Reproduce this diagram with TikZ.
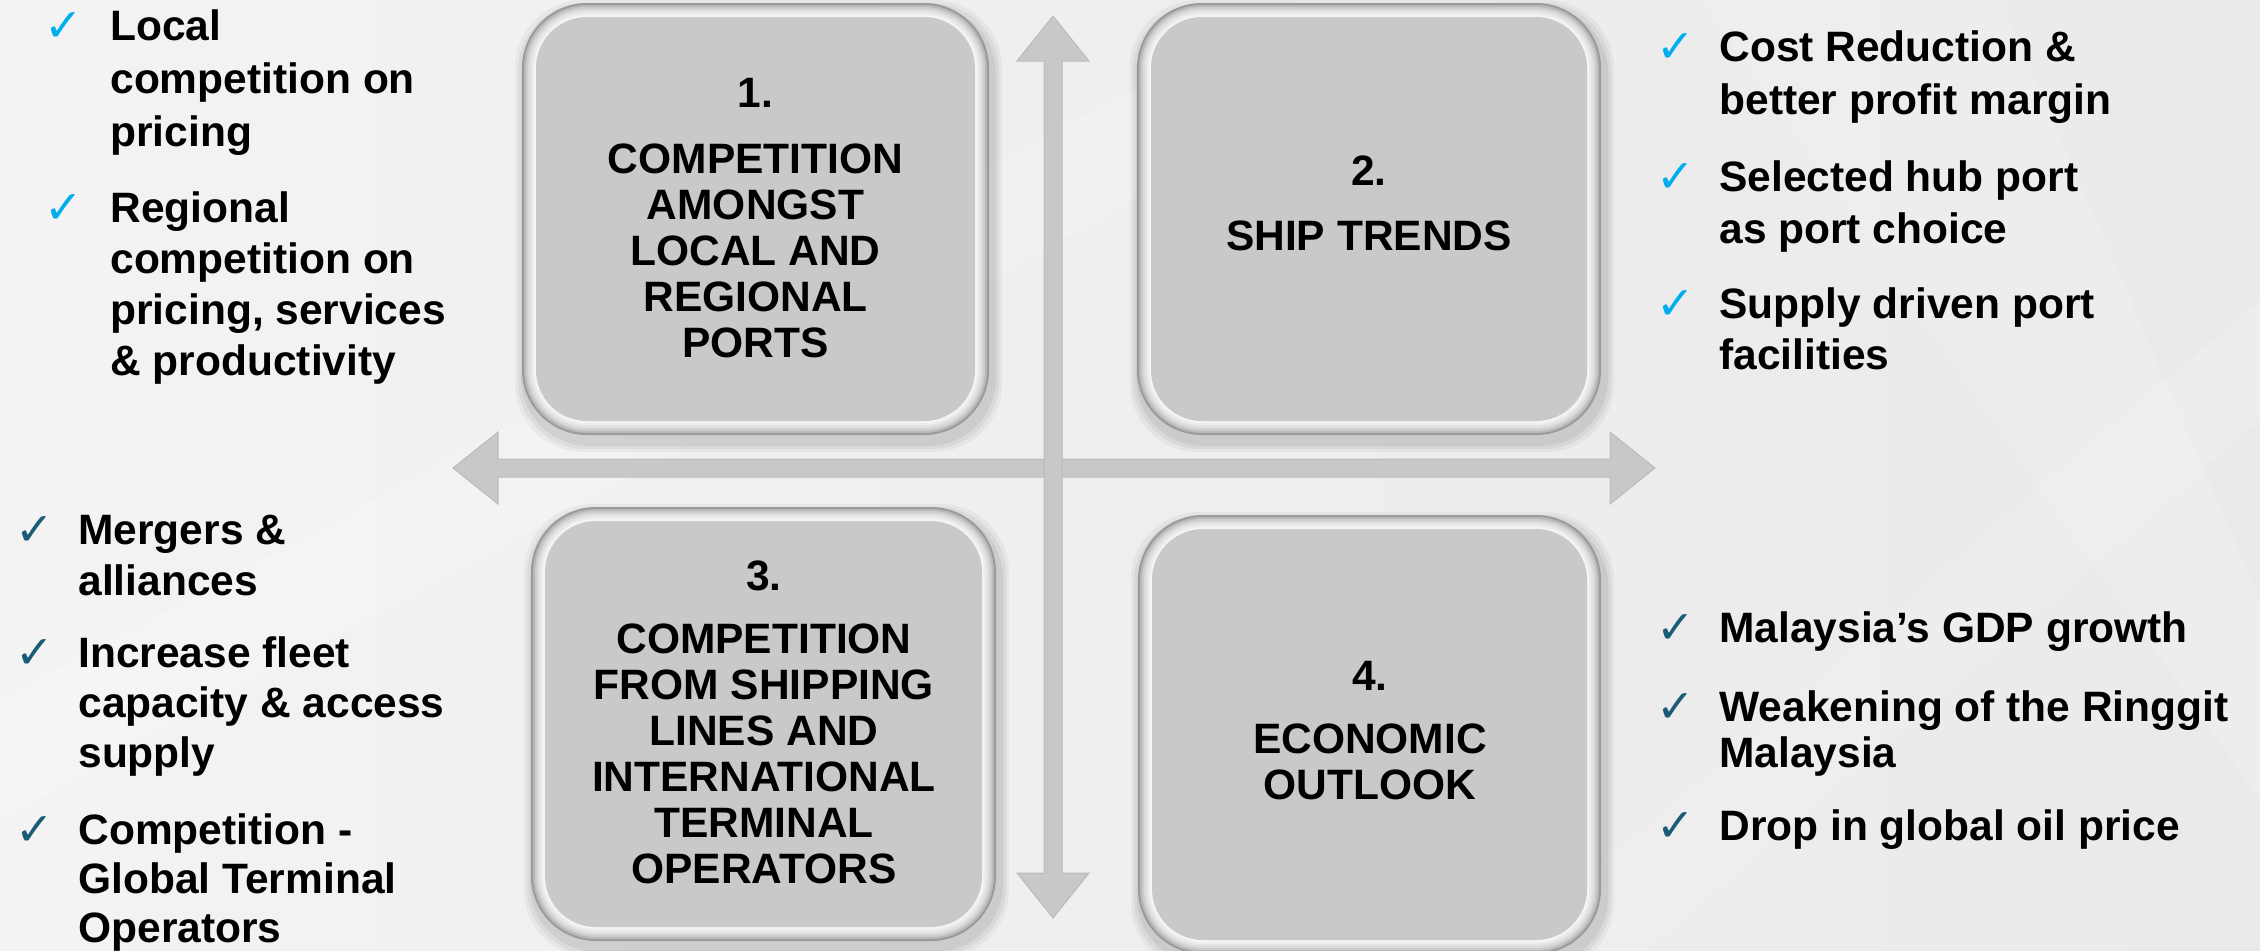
\documentclass[tikz,border=0pt]{standalone}
\usepackage{fontspec}
\setmainfont{Liberation Sans}
\newfontfamily\checkfont{DejaVu Sans}
\definecolor{bgA}{HTML}{F3F3F3}
\definecolor{bgB}{HTML}{EAEAEA}
\definecolor{rimA}{HTML}{9A9A9A}
\definecolor{rimB}{HTML}{B8B8B8}
\definecolor{rimC}{HTML}{CCCCCC}
\definecolor{rimD}{HTML}{DADADA}
\definecolor{rimE}{HTML}{E4E4E4}
\definecolor{rimF}{HTML}{EDEDED}
\definecolor{rimG}{HTML}{F5F5F5}
\definecolor{boxfill}{HTML}{C9C9C9}
\definecolor{arrowfill}{HTML}{C8C8C8}
\definecolor{arrowline}{HTML}{BBBBBB}
\definecolor{chkblue}{HTML}{00AEEF}
\definecolor{chkteal}{HTML}{1A5C78}
\newcommand\bevelbox[4]{%
  \foreach \bs/\bo in {10/0.04,7/0.05,4/0.06}{
    \fill[black,opacity=\bo,rounded corners=34pt] (#1-\bs+3,#2-\bs+7) rectangle (#3+\bs+3,#4+\bs+7);
  }
  \foreach \bd/\bc in {0/rimA,2/rimB,4/rimC,6/rimD,8/rimE,10/rimF,12/rimG,14/boxfill}{
    \pgfmathsetmacro\br{(65-\bd)*0.5}
    \fill[\bc,rounded corners=\br pt] (#1+\bd,#2+\bd) rectangle (#3-\bd,#4-\bd);
  }
}
\tikzset{
  bul/.style={anchor=north west, inner sep=0pt, align=left, text=black,
    font=\fontsize{21.25}{#1}\selectfont\bfseries},
  bul/.default=26,
  ttl/.style={anchor=north, inner sep=0pt, align=center, text=black,
    font=\fontsize{21.25}{23}\selectfont\bfseries},
  num/.style={anchor=base, inner sep=0pt, text=black,
    font=\fontsize{21.25}{23}\selectfont\bfseries},
  chkA/.style={anchor=base, inner sep=0pt, text=chkblue, font=\checkfont\fontsize{23}{23}\selectfont},
  chkB/.style={anchor=base, inner sep=0pt, text=chkteal, font=\checkfont\fontsize{23}{23}\selectfont},
  axis/.style={fill=arrowfill, draw=arrowline, line width=0.5pt, line join=miter}
}
\begin{document}
\begin{tikzpicture}[x=0.5pt,y=-0.5pt]
\useasboundingbox (0,0) rectangle (2260,950);
\clip (0,0) rectangle (2260,950);
% background
\shade[left color=bgA, right color=bgB] (0,0) rectangle (2260,950);
\fill[white,opacity=0.18] (0,700) -- (1300,0) -- (1500,0) -- (0,820) -- cycle;
\fill[white,opacity=0.15] (1500,950) -- (2260,300) -- (2260,420) -- (1650,950) -- cycle;
\fill[white,opacity=0.15] (1700,0) -- (2000,0) -- (2260,600) -- (2260,800) -- cycle;

% axes
\coordinate (hL) at (453,468);
\coordinate (hR) at (1655,468);
\coordinate (vT) at (1053,16);
\coordinate (vB) at (1053,918);
\draw[axis] (hL) -- (498,432) -- (498,459) -- (1610,459) -- (1610,432) -- (hR)
  -- (1610,504) -- (1610,477) -- (498,477) -- (498,504) -- cycle;
\draw[axis] (vT) -- (1089,61) -- (1062,61) -- (1062,873) -- (1089,873) -- (vB)
  -- (1017,873) -- (1044,873) -- (1044,61) -- (1017,61) -- cycle;

% boxes
\bevelbox{522}{3}{989}{435}
\bevelbox{1137}{3}{1601}{435}
\bevelbox{531}{507}{996}{941}
\bevelbox{1138}{515}{1601}{954}

\node[num] (n1) at (755.5,107) {1.};
\node[ttl] (t1) at (755.5,140.8) {\strut COMPETITION\\AMONGST\\LOCAL AND\\REGIONAL\\PORTS};
\node[num] (n2) at (1369,185) {2.};
\node[ttl] (t2) at (1369,217.8) {\strut SHIP TRENDS};
\node[num] (n3) at (764,590) {3.};
\node[ttl] (t3) at (764,620.8) {\strut COMPETITION\\FROM SHIPPING\\LINES AND\\INTERNATIONAL\\TERMINAL\\OPERATORS};
\node[num] (n4) at (1370,690) {4.};
\node[ttl] (t4) at (1370,720.8) {\strut ECONOMIC\\OUTLOOK};

% top-left bullets
\node[chkA] (c1) at (64,41) {✓};
\node[bul=26.5] (b1) at (110,2.9) {\strut Local\\competition on\\pricing};
\node[chkA] (c2) at (64,223) {✓};
\node[bul=25.5] (b2) at (110,186.3) {\strut Regional\\competition on\\pricing, services\\\& productivity};

% top-right bullets
\node[chkA] (c3) at (1676,62) {✓};
\node[bul=26.5] (b3) at (1719,23.9) {\strut Cost Reduction \&\\better profit margin};
\node[chkA] (c4) at (1676,192) {✓};
\node[bul=26] (b4) at (1719,154.6) {\strut Selected hub port\\as port choice};
\node[chkA] (c5) at (1676,319) {✓};
\node[bul=25.5] (b5) at (1719,282.3) {\strut Supply driven port\\facilities};

% bottom-left bullets
\node[chkB] (c6) at (35,545) {✓};
\node[bul=25.5] (b6) at (78,508.3) {\strut Mergers \&\\alliances};
\node[chkB] (c7) at (35,668) {✓};
\node[bul=25] (b7) at (78,632) {\strut Increase fleet\\capacity \& access\\supply};
\node[chkB] (c8) at (35,845) {✓};
\node[bul=24.5] (b8) at (78,809.7) {\strut Competition -\\Global Terminal\\Operators};

% bottom-right bullets
\node[chkB] (c9) at (1676,643) {✓};
\node[bul=25] (b9) at (1719,607) {\strut Malaysia’s GDP growth};
\node[chkB] (c10) at (1676,722) {✓};
\node[bul=23] (b10) at (1719,688.8) {\strut Weakening of the Ringgit\\Malaysia};
\node[chkB] (c11) at (1676,841) {✓};
\node[bul=25] (b11) at (1719,805) {\strut Drop in global oil price};
\end{tikzpicture}
\end{document}
